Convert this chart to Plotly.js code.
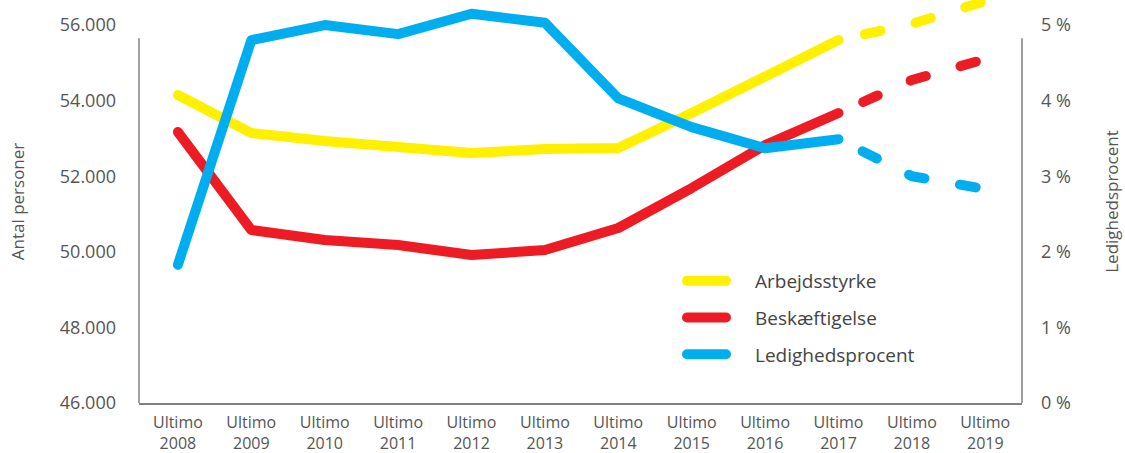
<!DOCTYPE html>
<html><head><meta charset="utf-8">
<script src="https://cdn.plot.ly/plotly-3.0.1.min.js"></script>
<style>
html,body{margin:0;padding:0;background:#fff}
#chart{width:1125px;height:453px}
path.js-line{stroke-linecap:round;stroke-linejoin:round}
.legend path.js-line{stroke-dasharray:39px,200px !important}
</style></head><body><div id="chart"></div>
<script>
const categories = ['Ultimo<br>2008','Ultimo<br>2009','Ultimo<br>2010','Ultimo<br>2011','Ultimo<br>2012','Ultimo<br>2013','Ultimo<br>2014','Ultimo<br>2015','Ultimo<br>2016','Ultimo<br>2017','Ultimo<br>2018','Ultimo<br>2019'];
const arbejdsstyrke = [54148, 53143, 52931, 52746, 52614, 52720, 52746, 53672, 54651, 55603, 56032, 56635];
const beskaeftigelse = [53169, 50577, 50312, 50180, 49915, 50048, 50630, 51688, 52825, 53672, 54545, 55101];
const ledighedsprocent = [1.83, 4.80, 5.00, 4.88, 5.15, 5.03, 4.03, 3.65, 3.37, 3.49, 3.00, 2.83];
const lastActual = 9; // Ultimo 2017: solid up to here, dashed after
const seriesNames = ['Arbejdsstyrke','Beskæftigelse','Ledighedsprocent'];
const colors = ['#FFF000','#ED1C24','#00AEEF'];
const leftTicks = [46000, 48000, 50000, 52000, 54000, 56000];
const rightTicks = [0, 1, 2, 3, 4, 5];
const rightTickText = ['0 %','1 %','2 %','3 %','4 %','5 %'];

const series = [arbejdsstyrke, beskaeftigelse, ledighedsprocent];
const axes = ['y','y','y2'];
const font = "'Open Sans', sans-serif";
const traces = [];
series.forEach((s, i) => {
  traces.push({
    type:'scatter', mode:'lines', name: seriesNames[i], legendgroup: 'g'+i,
    x: categories.slice(0, lastActual+1), y: s.slice(0, lastActual+1), yaxis: axes[i],
    line:{color: colors[i], width:10}, hoverinfo:'skip'
  });
});
series.forEach((s, i) => {
  traces.push({
    type:'scatter', mode:'lines', name: seriesNames[i], legendgroup: 'g'+i, showlegend:false,
    x: categories.slice(lastActual), y: s.slice(lastActual), yaxis: axes[i],
    line:{color: colors[i], width:10, dash:'16px,36px'}, hoverinfo:'skip'
  });
});

const layout = {
  width:1125, height:453,
  margin:{l:139, r:103, t:0, b:50},
  paper_bgcolor:'#fff', plot_bgcolor:'#fff',
  separators: ',.',
  font:{family: font, color:'#555'},
  showlegend:true,
  legend:{x:(682-139)/883, y:(403-262)/403, xanchor:'left', yanchor:'top',
    font:{size:19, color:'#444', family: font}, tracegroupgap:9, itemwidth:63,
    bgcolor:'rgba(0,0,0,0)'},
  xaxis:{type:'category', range:[-0.53, 11.5], showgrid:false, zeroline:false,
    showline:true, linecolor:'#808080', linewidth:1.5, ticks:'', ticklabelstandoff:4,
    tickfont:{size:16, color:'#555'}, fixedrange:true},
  yaxis:{range:[46000, 56663], tickvals:leftTicks, tickformat:',d', showgrid:false, zeroline:false,
    showline:false, ticks:'', ticklabelstandoff:22, tickfont:{size:18, color:'#555'},
    title:{text:'Antal personer', font:{size:17, color:'#555'}, standoff:30}},
  yaxis2:{overlaying:'y', side:'right', range:[0, 5.3316], tickvals:rightTicks, ticktext:rightTickText,
    showgrid:false, zeroline:false, showline:false, ticks:'', ticklabelstandoff:18,
    tickfont:{size:18, color:'#555'},
    title:{text:'Ledighedsprocent', font:{size:17, color:'#555'}, standoff:36}},
  shapes:[
    {type:'line', xref:'paper', yref:'y', x0:0, x1:0, y0:46000, y1:55650, line:{color:'#808080', width:1.5}},
    {type:'line', xref:'paper', yref:'y', x0:1, x1:1, y0:46000, y1:55650, line:{color:'#808080', width:1.5}}
  ]
};

Plotly.newPlot('chart', traces, layout, {staticPlot:true, displayModeBar:false}).then(() => {
  document.querySelectorAll('.scatterlayer path.js-line').forEach(p => {
    const d = p.style.strokeDasharray;
    if (d && d !== 'none' && d.indexOf('16') !== -1) p.style.strokeDashoffset = '25px';
  });
});
</script></body></html>
